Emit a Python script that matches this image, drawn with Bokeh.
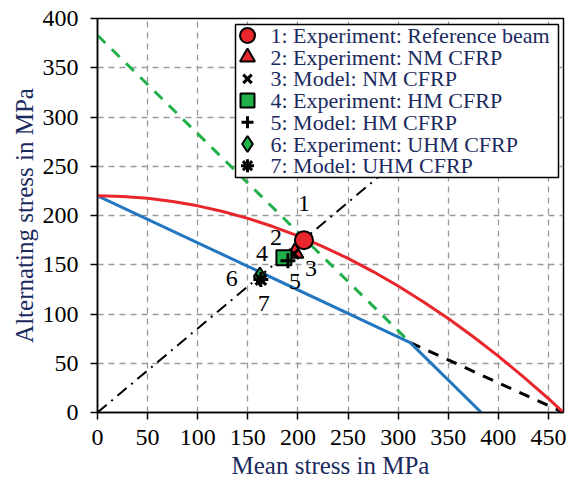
from bokeh.plotting import figure
from bokeh.models import ColumnDataSource, FixedTicker, Range1d
from bokeh.embed import file_html
from bokeh.resources import INLINE
from bokeh.core.properties import value

# ---- data ----
# Red curve (reference beam limit)
red_x = [0, 25, 50, 75, 100, 125, 150, 175, 200, 225, 250, 275, 300, 325, 350, 375, 400, 425, 450, 465]
red_y = [220, 219.4, 217.5, 214.3, 209.8, 204.1, 197.1, 188.8, 179.3, 168.5, 156.4, 143.1, 128.4, 112.5, 95.4, 76.9, 57.2, 36.2, 14.0, 0]
# Blue polyline
blue_x = [0, 312, 383]
blue_y = [220, 71, 0]
# Green dashed line
green_x = [0, 312]
green_y = [383, 71]
# Black dashed line
bdash_x = [312, 465]
bdash_y = [71, 0]
# Black dash-dot load line
ddot_x = [0, 300]
ddot_y = [0, 256]

# Points
pt_labels = ["1", "2", "3", "4", "5", "6", "7"]
pt_names = ["1: Experiment: Reference beam", "2: Experiment: NM CFRP", "3: Model: NM CFRP",
            "4: Experiment: HM CFRP", "5: Model: HM CFRP", "6: Experiment: UHM CFRP",
            "7: Model: UHM CFRP"]
pt_x = [206, 197, 196, 186, 190, 162, 163]
pt_y = [175, 162, 161, 157, 154, 138, 135]

x_ticks = [0, 50, 100, 150, 200, 250, 300, 350, 400, 450]
y_ticks = [0, 50, 100, 150, 200, 250, 300, 350, 400]

# ---- styles ----
RED = "#e8262b"
BLUE = "#2277c0"
GREEN = "#22b04b"
NAVY = "#1b2a5e"
FONT = "'Liberation Serif'"

markers = ["circle", "triangle", "x", "square", "cross", "diamond", "asterisk"]
fills = [RED, RED, "black", GREEN, "black", GREEN, "black"]
sizes = [18, 17, 14, 15, 15, 18, 15]
leg_sizes = [15, 15, 12, 14, 12, 16, 13]
lwidths = [2, 2, 3, 2, 3, 2, 3]
label_dx = [0, -19, 17, -22, 7, -28, 3]
label_dy = [-37, -15, 15, -4, 21, 2, 24]

FW, FH = 466, 394
p = figure(frame_width=FW, frame_height=FH, output_backend="svg", toolbar_location=None,
           x_range=(0, 465), y_range=(0, 400),
           min_border_left=97, min_border_top=18, min_border_right=5, min_border_bottom=75)
p.extra_x_ranges = {"px": Range1d(0, FW)}
p.extra_y_ranges = {"px": Range1d(0, FH)}
p.background_fill_color = "white"
p.border_fill_color = "white"
p.outline_line_color = "black"
p.outline_line_width = 1.5
p.outline_line_alpha = 1

for ax in (p.xaxis[0], p.yaxis[0]):
    ax.axis_line_width = 1.5
    ax.axis_line_color = "black"
    ax.major_tick_line_color = "black"
    ax.major_tick_line_width = 1.5
    ax.major_tick_out = 7
    ax.major_tick_in = 0
    ax.minor_tick_line_color = None
    ax.major_label_text_font = FONT
    ax.major_label_text_font_size = "24px"
    ax.major_label_text_color = "black"
    ax.axis_label_text_font = FONT
    ax.axis_label_text_font_size = "25px"
    ax.axis_label_text_font_style = "normal"
    ax.axis_label_text_color = NAVY

p.xaxis.ticker = FixedTicker(ticks=x_ticks)
p.yaxis.ticker = FixedTicker(ticks=y_ticks)
p.xaxis.axis_label = "Mean stress in MPa"
p.yaxis.axis_label = "Alternating stress in MPa"
p.xaxis.major_label_standoff = 10
p.yaxis.major_label_standoff = 12
p.xaxis.axis_label_standoff = 4
p.yaxis.axis_label_standoff = 2

for g in (p.xgrid[0], p.ygrid[0]):
    g.grid_line_color = "#9a9a9a"
    g.grid_line_dash = "6 5"
    g.grid_line_width = 1.3

p.line(ddot_x, ddot_y, line_color="black", line_width=2, line_dash="12 6 2 6")
p.line(bdash_x, bdash_y, line_color="black", line_width=3, line_dash="11 9")
p.line(green_x, green_y, line_color=GREEN, line_width=3, line_dash="11 9")
p.line(blue_x, blue_y, line_color=BLUE, line_width=3)
p.line(red_x, red_y, line_color=RED, line_width=3)

for i in [1, 2, 3, 4, 5, 6, 0]:
    p.scatter([pt_x[i]], [pt_y[i]], marker=markers[i], size=sizes[i],
              fill_color=fills[i], line_color="black", line_width=lwidths[i])

src = ColumnDataSource(dict(x=pt_x, y=pt_y, t=pt_labels, dx=label_dx, dy=label_dy))
p.text(x="x", y="y", text="t", x_offset="dx", y_offset="dy", source=src,
       text_font=value(FONT), text_font_size="24px", text_color="black",
       text_align="center", text_baseline="middle")

# ---- legend, laid out in frame pixels ----
LEG_L, LEG_R, LEG_T, LEG_B = 138, 461, 388, 235
ROW0, PITCH, MK_X, TX_X = 377, 21.7, 150, 173
p.quad(left=[LEG_L], right=[LEG_R], top=[LEG_T], bottom=[LEG_B],
       fill_color="white", line_color="black", line_width=1.5,
       x_range_name="px", y_range_name="px")
for i in range(7):
    ry = ROW0 - i * PITCH
    p.scatter([MK_X], [ry], marker=markers[i], size=leg_sizes[i],
              fill_color=fills[i], line_color="black", line_width=lwidths[i],
              x_range_name="px", y_range_name="px")
    p.text([TX_X], [ry], text=[pt_names[i]], text_font=value(FONT),
           text_font_size="22px", text_color=NAVY, text_align="left",
           text_baseline="middle", x_range_name="px", y_range_name="px")

open("out.html", "w").write(file_html(p, INLINE))
